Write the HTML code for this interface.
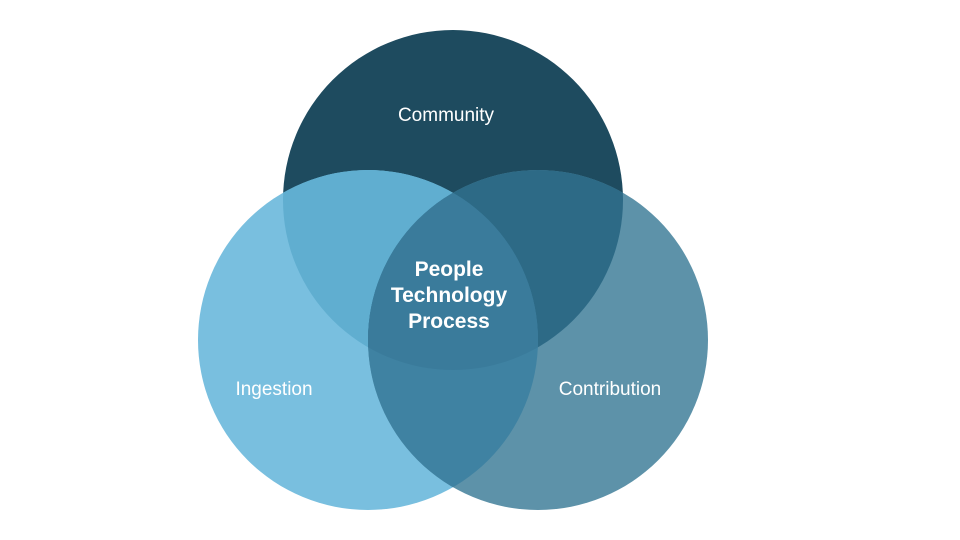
<!DOCTYPE html>
<html><head><meta charset="utf-8"><style>
html,body{margin:0;padding:0;background:#fff;width:960px;height:540px;overflow:hidden}
text{font-family:"Liberation Sans","DejaVu Sans",sans-serif;fill:#fff}
</style></head><body>
<svg width="960" height="540" viewBox="0 0 960 540">
<defs>
<clipPath id="T"><circle cx="453" cy="200" r="170"/></clipPath>
<clipPath id="L"><circle cx="368" cy="340" r="170"/></clipPath>
<clipPath id="R"><circle cx="538" cy="340" r="170"/></clipPath>
</defs>
<circle cx="453" cy="200" r="170" fill="#1e4b5f"/>
<circle cx="368" cy="340" r="170" fill="#79bfdf"/>
<circle cx="538" cy="340" r="170" fill="#5d92a9"/>
<g clip-path="url(#T)"><circle cx="368" cy="340" r="170" fill="#60aed0"/><circle cx="538" cy="340" r="170" fill="#2d6a86"/></g>
<g clip-path="url(#L)"><circle cx="538" cy="340" r="170" fill="#3f82a2"/></g>
<g clip-path="url(#L)"><g clip-path="url(#T)"><circle cx="538" cy="340" r="170" fill="#3a7b9b"/></g></g>
<text x="446" y="121" font-size="19" text-anchor="middle">Community</text>
<text x="274" y="395" font-size="19" text-anchor="middle">Ingestion</text>
<text x="610" y="395" font-size="19" text-anchor="middle">Contribution</text>
<text x="449" y="276" font-size="21" font-weight="bold" text-anchor="middle">People</text>
<text x="449" y="302" font-size="21" font-weight="bold" text-anchor="middle">Technology</text>
<text x="449" y="328" font-size="21" font-weight="bold" text-anchor="middle">Process</text>
</svg>
</body></html>
